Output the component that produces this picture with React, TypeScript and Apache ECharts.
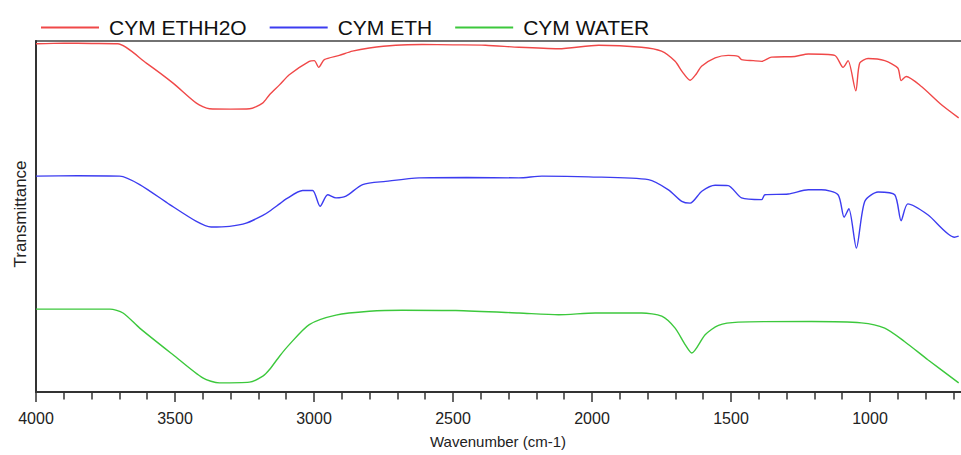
import React, { useEffect, useRef } from "react";
import * as echarts from "echarts";

const seriesNames = ["CYM ETHH2O", "CYM ETH", "CYM WATER"];
const seriesColors = ["#f04848", "#3c3cf0", "#3cc83c"];

const xTickLabels = ["4000", "3500", "3000", "2500", "2000", "1500", "1000"];

const redWn = [4000, 3900, 3800, 3706, 3603, 3507, 3423, 3376, 3300, 3232, 3185, 3160, 3124, 3089, 3017, 2999, 2983, 2963, 2909, 2862, 2801, 2706, 2611, 2500, 2383, 2263, 2120, 1976, 1822, 1750, 1701, 1675, 1647, 1625, 1606, 1557, 1510, 1474, 1462, 1420, 1390, 1354, 1270, 1222, 1127, 1097, 1079, 1051, 1037, 1007, 947, 900, 888, 870, 816, 744, 681];
const redT = [99.2, 99.4, 99.3, 99.2, 93.7, 88.0, 82.3, 80.7, 80.6, 80.7, 82.3, 84.7, 87.5, 90.4, 94.2, 94.4, 92.5, 94.7, 95.9, 97.1, 98.0, 98.8, 99.0, 98.9, 98.8, 98.2, 97.8, 98.8, 98.2, 97.1, 94.2, 91.2, 88.8, 90.6, 92.8, 95.2, 95.9, 95.6, 94.7, 94.4, 94.2, 95.4, 95.6, 96.3, 95.9, 92.5, 94.4, 85.8, 93.7, 95.0, 94.4, 92.3, 88.7, 89.9, 87.1, 81.9, 78.1];

const blueWn = [4000, 3850, 3699, 3627, 3519, 3423, 3370, 3304, 3244, 3184, 3160, 3124, 3100, 3041, 3005, 2978, 2951, 2921, 2885, 2825, 2742, 2622, 2450, 2263, 2180, 2012, 1797, 1725, 1677, 1647, 1605, 1557, 1510, 1462, 1390, 1378, 1294, 1222, 1175, 1115, 1093, 1076, 1049, 1019, 971, 911, 888, 864, 792, 696, 681];
const blueT = [61.5, 61.6, 61.5, 59.1, 53.4, 48.6, 47.0, 47.2, 48.1, 50.3, 51.5, 53.6, 55.0, 57.4, 57.4, 52.9, 56.2, 55.3, 55.8, 59.1, 60.0, 61.0, 61.1, 61.0, 61.5, 61.3, 60.5, 57.6, 54.3, 53.8, 57.2, 58.9, 58.8, 55.3, 54.8, 56.2, 56.4, 57.6, 57.6, 56.2, 49.8, 52.2, 41.0, 54.3, 57.0, 56.2, 48.8, 53.6, 50.5, 44.1, 44.4];

const greenWn = [4000, 3850, 3734, 3687, 3627, 3507, 3400, 3340, 3232, 3184, 3160, 3124, 3089, 3017, 2921, 2801, 2682, 2490, 2263, 2120, 1988, 1821, 1749, 1701, 1665, 1641, 1593, 1545, 1474, 1211, 1031, 947, 876, 792, 681];
const greenT = [23.6, 23.6, 23.6, 22.5, 18.2, 10.6, 4.0, 2.6, 2.8, 4.5, 6.4, 10.2, 13.5, 19.2, 21.9, 23.0, 23.3, 23.2, 22.5, 22.0, 22.5, 22.5, 21.6, 18.2, 13.5, 11.1, 16.3, 19.0, 19.9, 20.1, 19.7, 18.2, 14.4, 9.2, 2.6];

const FONT = 'Arial, "Liberation Sans", sans-serif';

function zip(xs: number[], ys: number[]) {
  return xs.map((x, i) => [x, ys[i]]);
}

export default function App() {
  const ref = useRef<HTMLDivElement>(null);
  useEffect(() => {
    if (!ref.current) return;
    const chart = echarts.init(ref.current, null, { renderer: "svg" });
    const datasets = [zip(redWn, redT), zip(blueWn, blueT), zip(greenWn, greenT)];
    chart.setOption({
      animation: false,
      color: seriesColors,
      grid: { left: 36, right: 1, top: 41, bottom: 63, containLabel: false, show: true, borderColor: "#444", borderWidth: 1.5, backgroundColor: "transparent" },
      legend: {
        left: 36,
        top: 12,
        icon: "rect",
        itemWidth: 58,
        itemHeight: 2,
        itemGap: 23,
        data: seriesNames,
        textStyle: { fontFamily: FONT, fontSize: 21, color: "#111", padding: [0, 0, 0, 5] },
      },
      xAxis: {
        type: "value",
        inverse: true,
        min: 500,
        max: 4000,
        interval: 500,
        axisLine: { show: true, lineStyle: { color: "#333", width: 2 } },
        axisTick: { show: true, length: 10, lineStyle: { color: "#333", width: 1.5 } },
        minorTick: { show: true, splitNumber: 5, length: 7.5, lineStyle: { color: "#333", width: 1.5 } },
        splitLine: { show: false },
        axisLabel: {
          margin: 18,
          fontFamily: FONT,
          fontSize: 16,
          color: "#222",
          formatter: (v: number) => (xTickLabels.includes(String(v)) ? String(v) : ""),
        },
      },
      yAxis: {
        type: "value",
        min: 0,
        max: 100,
        axisLine: { show: true, lineStyle: { color: "#333", width: 2 } },
        axisTick: { show: false },
        axisLabel: { show: false },
        splitLine: { show: false },
      },
      graphic: [
        {
          type: "text",
          x: 498,
          y: 441,
          style: { text: "Wavenumber (cm-1)", fontFamily: FONT, fontSize: 15, fill: "#222", textAlign: "center", textVerticalAlign: "middle" },
        },
        {
          type: "text",
          x: 20,
          y: 214,
          rotation: Math.PI / 2,
          style: { text: "Transmittance", fontFamily: FONT, fontSize: 17, fill: "#222", textAlign: "center", textVerticalAlign: "middle" },
        },
      ],
      series: seriesNames.map((name, i) => ({
        name,
        type: "line",
        data: datasets[i],
        symbol: "none",
        smooth: 0.25,
        lineStyle: { width: 1.4, color: seriesColors[i] },
        itemStyle: { color: seriesColors[i] },
      })),
    });
    return () => chart.dispose();
  }, []);
  return (
    <div style={{ position: "fixed", left: 0, top: 0, width: 961, height: 455, overflow: "hidden", background: "#fff" }}>
      <div ref={ref} style={{ width: 1012, height: 455 }} />
    </div>
  );
}
